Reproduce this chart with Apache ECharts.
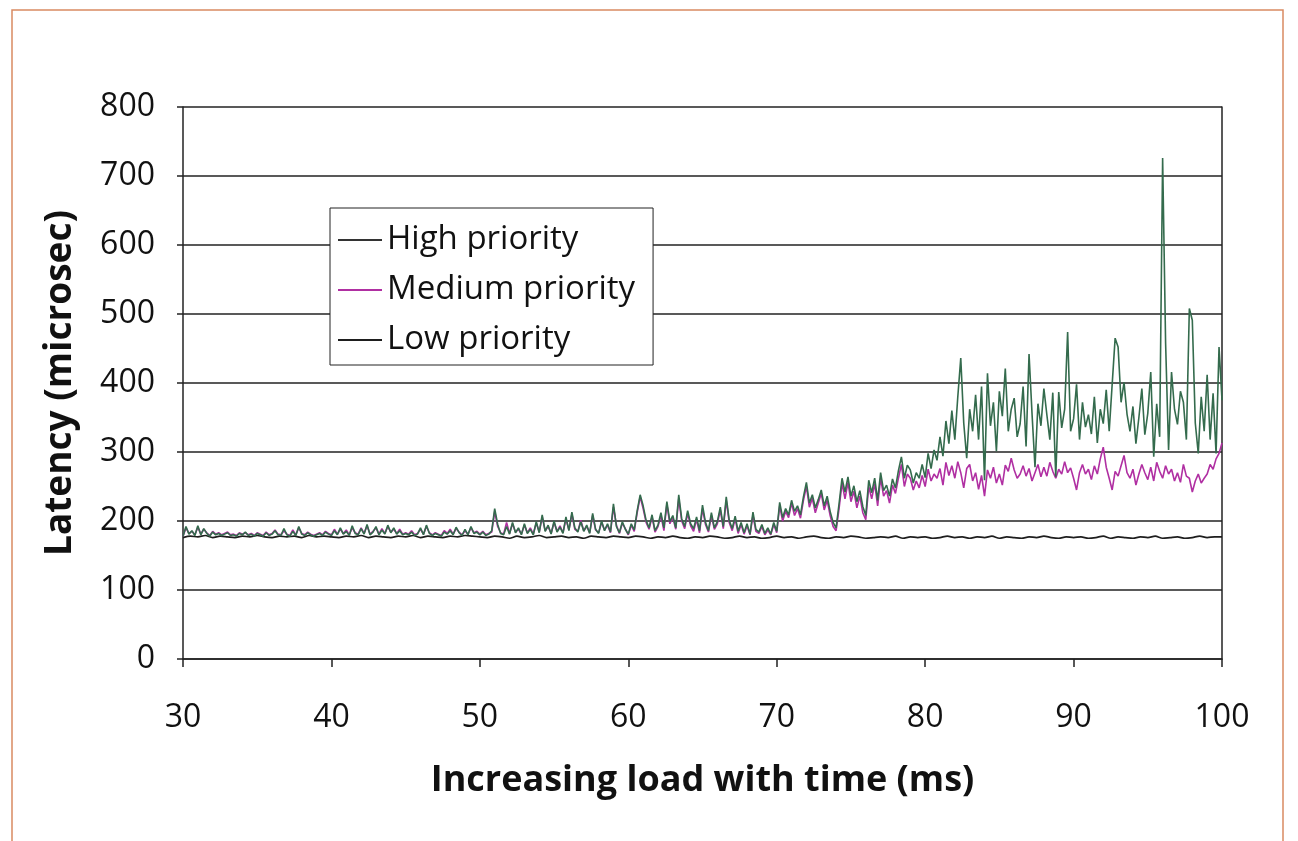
<!DOCTYPE html>
<html>
<head>
<meta charset="utf-8">
<script src="https://cdn.jsdelivr.net/npm/echarts@6/dist/echarts.min.js"></script>
<style>
  html, body { margin: 0; padding: 0; background: #fff; }
  #chart { width: 1298px; height: 841px; }
</style>
</head>
<body>
<div id="chart"></div>
<script>
// sampling of the two noisy series (ms)
const T_START = 30;
const T_STEP = 0.2;
// low priority sampled more coarsely, it is almost flat
const LOW_STEP = 0.5;

const seriesNames = ['High priority', 'Medium priority', 'Low priority'];
const xTicks = [30, 40, 50, 60, 70, 80, 90, 100];
const yTicks = [0, 100, 200, 300, 400, 500, 600, 700, 800];

// latency (microsec), one row per ms
const highLatency = [
  178,192,181,186,179, 193,180,189,182,178, 184,180,182,179,181, 183,179,180,178,182,
  180,184,179,181,178, 182,180,178,183,179, 181,186,180,179,189, 180,178,185,179,192,
  181,179,183,180,178, 180,182,179,184,181, 179,186,180,190,181, 185,179,193,182,180,
  189,181,195,180,184, 192,180,187,181,194, 183,190,181,186,180, 182,180,184,179,181,
  190,180,194,182,179, 182,180,178,184,181, 186,180,191,183,179, 188,180,192,182,184,
  180,184,179,181,186, 218,195,182,180,192, 181,198,183,190,180, 196,182,188,180,199,
  183,209,185,194,181, 200,184,191,182,206, 186,213,190,184,199, 185,194,182,211,188,
  182,200,186,196,184, 225,192,183,199,188, 181,196,187,215,238, 222,201,190,209,186,
  194,212,190,228,199, 208,190,238,203,192, 215,196,189,206,186, 223,198,186,212,190,
  199,220,192,235,201, 189,207,185,198,183, 196,181,213,188,184, 195,182,190,181,198,
  185,227,205,218,209, 230,214,222,209,235, 256,226,238,219,231, 245,222,236,214,198,
  190,225,262,242,264, 236,251,228,244,221, 208,259,241,262,230, 270,244,252,236,261,
  248,273,293,262,281, 274,255,270,262,282, 263,298,276,303,288, 322,294,345,312,360,
  318,380,436,342,291, 362,330,383,318,395, 259,414,338,372,301, 388,352,421,330,362,
  378,322,341,395,308, 442,356,278,370,338, 392,354,318,386,264, 387,335,362,474,330,
  348,398,318,372,336, 354,326,380,313,362, 341,390,330,398,465, 452,372,401,355,330,
  366,312,350,392,325, 356,416,293,370,322, 726,458,303,416,362, 340,388,372,318,508,
  491,342,298,380,330, 412,318,385,298,452,
  375
];

const mediumLatency = [
  178,190,182,185,180, 191,181,188,183,179, 185,181,183,180,182, 184,180,181,179,183,
  181,183,180,182,179, 183,181,179,184,180, 182,187,181,180,186, 181,179,187,180,190,
  182,180,184,181,179, 181,183,180,185,182, 180,188,181,188,182, 187,180,190,183,181,
  190,182,193,181,185, 190,181,189,182,192, 184,188,182,188,181, 183,181,186,180,182,
  188,181,192,183,180, 183,181,179,186,182, 188,181,189,184,180, 186,181,190,183,185,
  181,185,180,182,184, 214,192,183,181,198, 182,196,184,188,181, 194,183,190,181,197,
  184,206,186,192,182, 198,185,193,183,203, 187,210,188,185,201, 186,192,183,208,187,
  183,198,187,194,183, 220,194,182,197,189, 180,194,185,212,235, 218,198,188,206,184,
  192,208,186,224,196, 205,188,232,200,189, 211,193,185,202,183, 218,195,184,208,188,
  196,216,189,230,198, 186,203,182,195,181, 193,180,208,185,182, 192,180,187,180,195,
  183,222,200,214,205, 226,208,218,204,230, 250,220,233,212,226, 240,216,230,208,192,
  186,218,255,232,256, 228,243,219,236,212, 202,250,232,254,222, 262,236,244,226,252,
  240,262,282,250,268, 262,245,258,248,266, 250,275,258,268,262, 276,252,285,266,280,
  262,286,270,248,276, 282,258,270,246,266, 236,274,262,278,255, 268,252,281,272,291,
  274,262,268,280,265, 276,258,270,282,264, 278,265,285,272,262, 275,268,286,270,277,
  262,245,270,282,268, 275,260,280,268,290, 307,278,262,245,272, 265,280,295,270,262,
  275,252,268,282,270, 260,278,258,285,272, 262,280,268,275,258, 270,256,282,265,262,
  242,258,268,255,262, 268,282,275,290,298,
  313
];

const lowLatency = [
  176,178,177,179,176,178,177,176,178,177,179,177,176,178,177,178,176,179,177,178,
  177,176,178,177,179,176,178,177,176,178,177,179,176,178,177,176,178,177,179,178,
  177,176,178,177,175,178,176,177,179,176,177,178,176,177,175,178,177,176,178,177,
  176,178,177,175,177,176,178,176,175,177,176,178,177,175,176,178,176,177,175,176,
  178,176,177,175,177,178,176,175,177,176,178,177,175,176,177,176,178,175,177,176,
  177,175,176,178,176,177,175,177,176,178,175,177,176,175,177,176,178,176,175,177,
  176,177,175,176,178,175,177,176,175,177,176,178,175,176,177,175,176,178,176,177,
  177
];

const FONT = '"Open Sans", Lato, sans-serif';

function toPairs(values, step) {
  return values.map((v, i) => [T_START + i * step, v]);
}

const chart = echarts.init(document.getElementById('chart'));

const option = {
  animation: false,
  backgroundColor: '#ffffff',
  textStyle: { fontFamily: FONT },
  graphic: [
    {
      type: 'rect',
      shape: { x: 12, y: 10, width: 1271, height: 860 },
      style: { fill: 'none', stroke: '#d98a62', lineWidth: 1.5 },
      silent: true,
    },
  ],
  grid: { left: 183, right: 76, top: 107, bottom: 182, containLabel: false },
  legend: {
    data: seriesNames,
    orient: 'vertical',
    left: 330,
    top: 208,
    padding: [12, 18, 5, 8],
    backgroundColor: '#ffffff',
    borderColor: '#222',
    borderWidth: 1,
    borderRadius: 0,
    itemGap: 10,
    itemWidth: 44,
    itemHeight: 2,
    icon: 'rect',
    textStyle: { fontFamily: FONT, fontSize: 33, color: '#111', lineHeight: 40 },
  },
  xAxis: {
    type: 'value',
    min: xTicks[0],
    max: xTicks[xTicks.length - 1],
    interval: 10,
    name: 'Increasing load with time (ms)',
    nameLocation: 'middle',
    nameGap: 104,
    nameTextStyle: { fontFamily: FONT, fontSize: 36, fontWeight: 'bold', color: '#111' },
    axisLine: { show: true, lineStyle: { color: '#222', width: 1.5 } },
    axisTick: { show: true, length: 8, lineStyle: { color: '#222', width: 1.5 } },
    axisLabel: { fontFamily: FONT, fontSize: 32, color: '#111', margin: 43 },
    splitLine: { show: false },
  },
  yAxis: [
    {
      type: 'value',
      min: yTicks[0],
      max: yTicks[yTicks.length - 1],
      interval: 100,
      name: 'Latency (microsec)',
      nameLocation: 'middle',
      nameGap: 104,
      nameTextStyle: { fontFamily: FONT, fontSize: 37, fontWeight: 'bold', color: '#111' },
      axisLine: { show: true, lineStyle: { color: '#222', width: 1.5 } },
      axisTick: { show: true, length: 6, lineStyle: { color: '#222', width: 1.5 } },
      axisLabel: { fontFamily: FONT, fontSize: 32, color: '#111', margin: 28 },
      splitLine: { show: true, lineStyle: { color: '#222', width: 1.5 } },
    },
    {
      type: 'value',
      position: 'right',
      min: yTicks[0],
      max: yTicks[yTicks.length - 1],
      interval: 100,
      axisLine: { show: true, lineStyle: { color: '#222', width: 1.5 } },
      axisTick: { show: false },
      axisLabel: { show: false },
      splitLine: { show: false },
    },
  ],
  series: [
    {
      name: seriesNames[2],
      type: 'line',
      data: toPairs(lowLatency, LOW_STEP),
      symbol: 'none',
      smooth: 0.3,
      lineStyle: { color: '#1e1e1e', width: 1.7 },
      itemStyle: { color: '#1e1e1e' },
    },
    {
      name: seriesNames[1],
      type: 'line',
      data: toPairs(mediumLatency, T_STEP),
      symbol: 'none',
      lineStyle: { color: '#b02fa2', width: 1.6 },
      itemStyle: { color: '#b02fa2' },
    },
    {
      name: seriesNames[0],
      type: 'line',
      data: toPairs(highLatency, T_STEP),
      symbol: 'none',
      lineStyle: { color: '#346b4d', width: 1.6 },
      itemStyle: { color: '#333' },
    },
  ],
};

chart.setOption(option);
</script>
</body>
</html>
